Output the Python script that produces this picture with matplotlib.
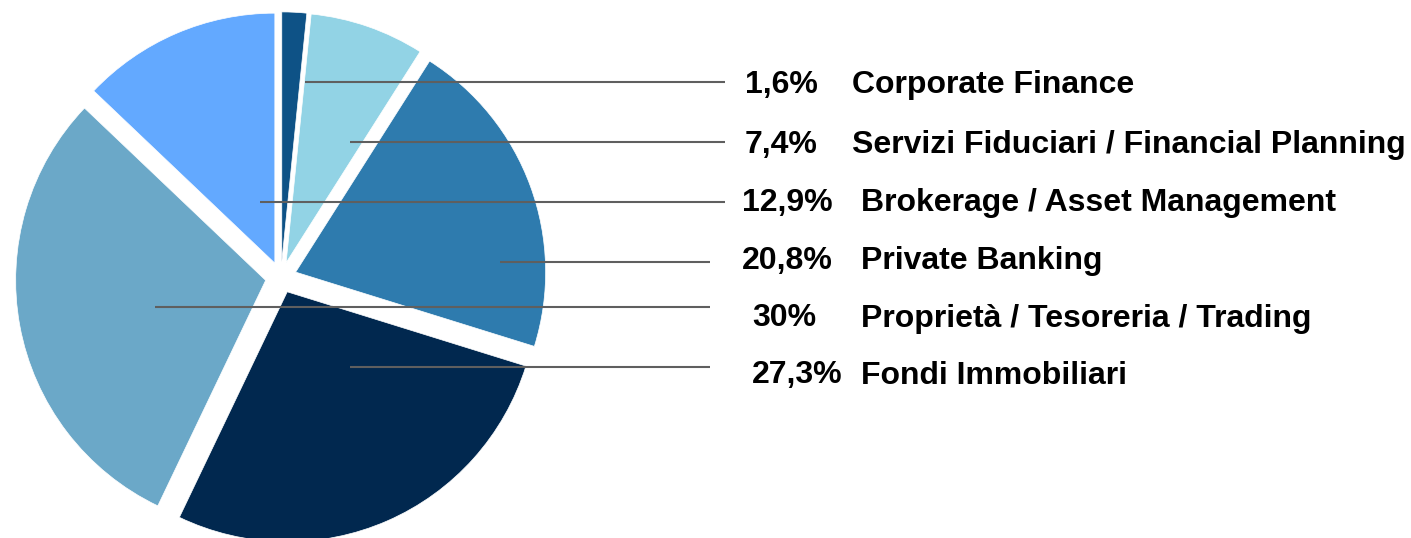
import matplotlib.pyplot as plt

# dati (ordine orario a partire dall'alto)
segments = ["Corporate Finance", "Servizi Fiduciari / Financial Planning",
            "Private Banking", "Fondi Immobiliari",
            "Proprietà / Tesoreria / Trading", "Brokerage / Asset Management"]
shares = [1.6, 7.4, 20.8, 27.3, 30.0, 12.9]
colors = ["#0e5286", "#92d3e5", "#2e7bae", "#01284f", "#6ba8c8", "#63a9ff"]

# ordine delle etichette a destra
label_order = ["Corporate Finance", "Servizi Fiduciari / Financial Planning",
               "Brokerage / Asset Management", "Private Banking",
               "Proprietà / Tesoreria / Trading", "Fondi Immobiliari"]

# layout in pixel (y dall'alto)
W, H = 1411, 538
cx, cy, R = 281, 277.5, 250
gap = 15.6
row_y = [82, 142, 200, 257, 315, 372]
line_y = [82, 142, 202, 262, 307, 367]
line_x0 = [305, 350, 260, 500, 155, 350]
line_x1 = [725, 725, 725, 710, 710, 710]
pct_x = [745, 745, 742, 742, 752, 752]
name_x = [852, 852, 861, 861, 861, 861]

fig = plt.figure(figsize=(W / 100, H / 100), dpi=100)
ax = fig.add_axes([0, 0, 1, 1])

# explode e' in unita' dati (pixel qui)
ax.pie(shares, colors=colors, startangle=90, counterclock=False,
       explode=[gap] * len(shares), radius=R, center=(cx, H - cy),
       wedgeprops=dict(edgecolor="white", linewidth=0.5))
ax.set_aspect("auto")
ax.set_xlim(0, W)
ax.set_ylim(0, H)
ax.axis("off")


def fmt(v):
    return f"{v:g}".replace(".", ",") + "%"


font = dict(family=["Liberation Sans", "DejaVu Sans"], fontweight="bold",
            fontsize=23, color="black")

for i, name in enumerate(label_order):
    v = shares[segments.index(name)]
    ax.plot([line_x0[i], line_x1[i]], [H - line_y[i]] * 2,
            color="#5f5f5f", lw=1.5, solid_capstyle="butt")
    base = H - (row_y[i] + 11.5)
    ax.text(pct_x[i], base, fmt(v), ha="left", va="baseline", **font)
    ax.text(name_x[i], base, name, ha="left", va="baseline", **font)

fig.savefig("out.png", dpi=100)
